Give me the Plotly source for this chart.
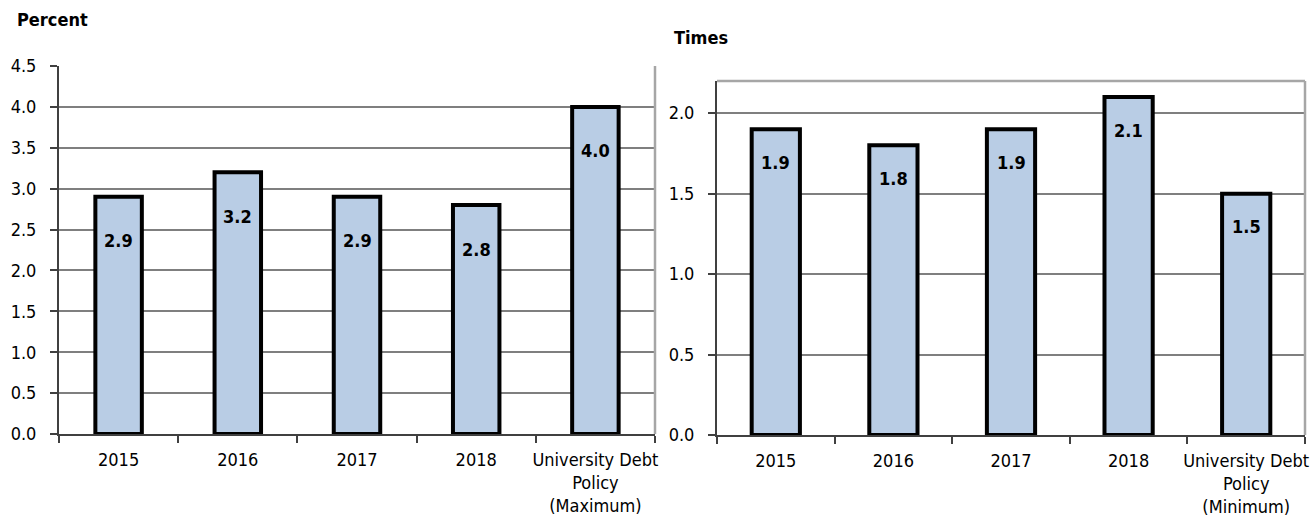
import plotly.graph_objects as go

categories_left = ["2015", "2016", "2017", "2018", "University Debt<br>Policy<br>(Maximum)"]
debt_burden = [2.9, 3.2, 2.9, 2.8, 4.0]
left_ticks = [0.0, 0.5, 1.0, 1.5, 2.0, 2.5, 3.0, 3.5, 4.0, 4.5]

categories_right = ["2015", "2016", "2017", "2018", "University Debt<br>Policy<br>(Minimum)"]
debt_coverage = [1.9, 1.8, 1.9, 2.1, 1.5]
right_ticks = [0.0, 0.5, 1.0, 1.5, 2.0]

FONT = "DejaVu Sans Condensed"
BAR_FILL = "#b9cde5"
GRID = "#7f7f7f"
FRAME = "#a6a6a6"
AXIS = "#404040"

W, H = 1313, 520
def px_x(p): return p / W
def px_y(p): return (H - p) / H

fig = go.Figure()
fig.add_trace(go.Bar(x=categories_left, y=debt_burden, xaxis="x", yaxis="y", width=0.39,
                     marker=dict(color=BAR_FILL, line=dict(color="#000000", width=4)),
                     hoverinfo="skip", showlegend=False))
fig.add_trace(go.Bar(x=categories_right, y=debt_coverage, xaxis="x2", yaxis="y2", width=0.41,
                     marker=dict(color=BAR_FILL, line=dict(color="#000000", width=4)),
                     hoverinfo="skip", showlegend=False))

annotations = []
for i, v in enumerate(debt_burden):
    annotations.append(dict(x=i, y=v, xref="x", yref="y", text=f"<b>{v:.1f}</b>", showarrow=False,
                            yshift=-44, font=dict(family=FONT, size=18, color="#000000")))
for i, v in enumerate(debt_coverage):
    annotations.append(dict(x=i, y=v, xref="x2", yref="y2", text=f"<b>{v:.1f}</b>", showarrow=False,
                            yshift=-33, font=dict(family=FONT, size=18, color="#000000")))
annotations.append(dict(x=px_x(15), y=px_y(20), xref="paper", yref="paper", xanchor="left", yanchor="middle",
                        text="<b>Percent</b>", showarrow=False, font=dict(family=FONT, size=18, color="#000000")))
annotations.append(dict(x=px_x(672), y=px_y(38), xref="paper", yref="paper", xanchor="left", yanchor="middle",
                        text="<b>Times</b>", showarrow=False, font=dict(family=FONT, size=18, color="#000000")))

tickfont = dict(family=FONT, size=18, color="#000000")

xaxis_common = dict(type="category", tickson="boundaries", ticks="outside", ticklen=7, tickwidth=1.5,
                    tickcolor=AXIS, showline=True, linecolor=AXIS, linewidth=2, showgrid=False,
                    tickfont=tickfont, fixedrange=True, zeroline=False, tickangle=0, range=[-0.5, 4.5],
                    automargin=False, ticklabelstandoff=8)
yaxis_common = dict(ticks="outside", ticklen=7, tickwidth=1.5, tickcolor=AXIS, showline=True,
                    linecolor=AXIS, linewidth=2, showgrid=True, gridcolor=GRID, gridwidth=1.5,
                    tickfont=tickfont, zeroline=False, ticklabelstandoff=10, automargin=False,
                    fixedrange=True)

fig.update_layout(
    width=W, height=H, margin=dict(l=0, r=0, t=0, b=0, autoexpand=False),
    paper_bgcolor="white", plot_bgcolor="white", showlegend=False,
    xaxis=dict(domain=[px_x(59), px_x(655)], anchor="y", **xaxis_common),
    yaxis=dict(domain=[px_y(434), px_y(66)], anchor="x", range=[0, 4.5], tickvals=left_ticks,
               ticktext=[f"{t:.1f}" for t in left_ticks], **yaxis_common),
    xaxis2=dict(domain=[px_x(717), px_x(1305)], anchor="y2", **xaxis_common),
    yaxis2=dict(domain=[px_y(435), px_y(81)], anchor="x2", range=[0, 2.2], tickvals=right_ticks,
                ticktext=[f"{t:.1f}" for t in right_ticks], **yaxis_common),
    annotations=annotations,
    shapes=[
        dict(type="line", xref="x domain", yref="y domain", x0=1, x1=1, y0=0, y1=1,
             line=dict(color=FRAME, width=2.5)),
        dict(type="line", xref="x2 domain", yref="y2 domain", x0=0, x1=1, y0=1, y1=1,
             line=dict(color=FRAME, width=2.5)),
        dict(type="line", xref="x2 domain", yref="y2 domain", x0=1, x1=1, y0=0, y1=1,
             line=dict(color=FRAME, width=2.5)),
    ],
)

fig.write_html("out.html")
